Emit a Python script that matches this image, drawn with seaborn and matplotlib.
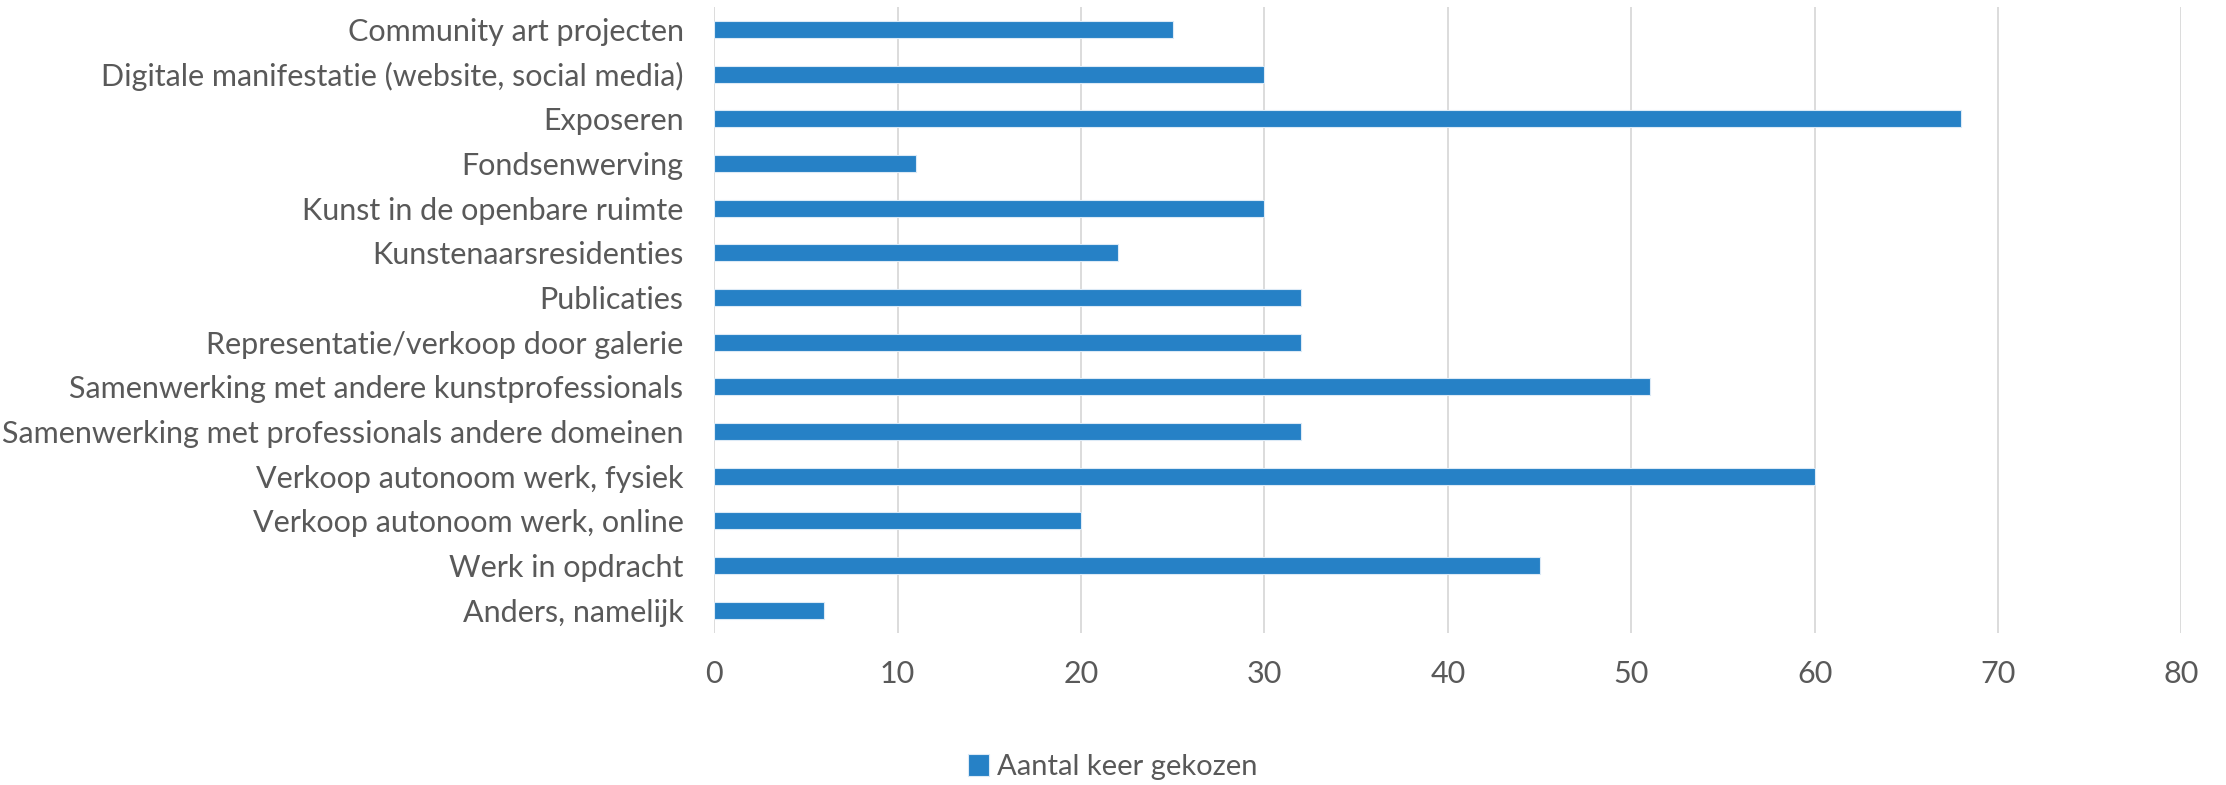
import matplotlib.pyplot as plt
import pandas as pd
import seaborn as sns

# Data
categories = [
    'Community art projecten',
    'Digitale manifestatie (website, social media)',
    'Exposeren',
    'Fondsenwerving',
    'Kunst in de openbare ruimte',
    'Kunstenaarsresidenties',
    'Publicaties',
    'Representatie/verkoop door galerie',
    'Samenwerking met andere kunstprofessionals',
    'Samenwerking met professionals andere domeinen',
    'Verkoop autonoom werk, fysiek',
    'Verkoop autonoom werk, online',
    'Werk in opdracht',
    'Anders, namelijk',
]
counts = [25, 30, 68, 11, 30, 22, 32, 32, 51, 32, 60, 20, 45, 6]
x_ticks = [0, 10, 20, 30, 40, 50, 60, 70, 80]
series_name = 'Aantal keer gekozen'

df = pd.DataFrame({'categorie': categories, 'aantal': counts})

sns.set_theme(style='white')
plt.rcParams['font.family'] = ['Lato', 'DejaVu Sans']
text_color = '#595959'

fig = plt.figure(figsize=(22.26, 7.85), dpi=100)
ax = fig.add_axes([0.3208, 0.194, 0.6592, 0.797])

sns.barplot(data=df, x='aantal', y='categorie', orient='h', color='#2681C6',
            saturation=1, width=0.38, edgecolor='#DCEAF6', linewidth=0.8,
            label=series_name, ax=ax)

ax.set_xlim(0, 80)
ax.set_xticks(x_ticks)
ax.set_xticklabels([str(t) for t in x_ticks])
ax.set_ylim(len(categories) - 0.5, -0.5)
ax.set_xlabel('')
ax.set_ylabel('')

ax.grid(axis='x', color='#D9D9D9', linewidth=1.3)
ax.grid(axis='y', visible=False)
ax.set_axisbelow(True)
for s in ax.spines.values():
    s.set_visible(False)

ax.tick_params(axis='y', length=0, pad=22, labelsize=22, labelcolor=text_color)
ax.tick_params(axis='x', length=0, pad=20, labelsize=22, labelcolor=text_color)

ax.legend(loc='lower center', bbox_to_anchor=(0.5, -0.012), bbox_transform=fig.transFigure,
          frameon=False, fontsize=21, labelcolor=text_color, handlelength=0.7,
          handleheight=0.8, handletextpad=0.3, borderpad=0)

fig.savefig('out.png', dpi=100)
